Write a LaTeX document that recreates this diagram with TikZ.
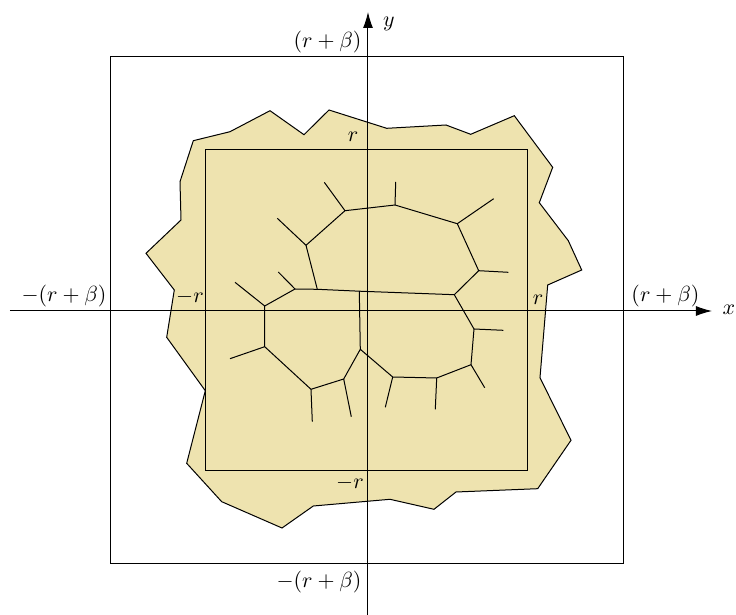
\documentclass[tikz,border=0pt]{standalone}
\usetikzlibrary{arrows.meta}
\definecolor{blobfill}{RGB}{238,227,175}
\begin{document}
\begin{tikzpicture}[x=0.5pt,y=-0.5pt,line width=0.5pt,
  lbl/.style={inner sep=0pt,font=\fontsize{10.5}{12}\selectfont},
  edge/.style={draw,line width=0.5pt},
  axis/.style={draw,-{Latex[length=8pt,width=5pt]}}]
\useasboundingbox (0,0) rectangle (736,615);
% blob
\filldraw[fill=blobfill,draw=black,line join=miter] (193.3,140.7) -- (230,131.7) -- (270,110.7) -- (304,134.7) -- (329,110) -- (386.7,128.3) -- (446,125) -- (470.7,134.3) -- (514.3,115.7) -- (552.7,167.3) -- (539.3,202.7) -- (568.3,240.7) -- (581.7,270) -- (547.7,285) -- (540,377.7) -- (571,440.3) -- (537.7,488.7) -- (456,492) -- (434,509.3) -- (390,499.3) -- (313.3,506) -- (282,528) -- (221.7,501.7) -- (186.7,463.3) -- (205.3,390.7) -- (166.7,337.3) -- (174.3,290) -- (146,253.3) -- (181,220) -- (180,181.7) -- cycle;
% squares
\draw (111,57) rectangle (624,564);
\draw (206,150) rectangle (528,471);
% axes
\coordinate (xl) at (10,311);
\coordinate (xr) at (712,311);
\coordinate (yb) at (368,615);
\coordinate (yt) at (368,12);
\draw[axis] (xl) -- (xr);
\draw[axis] (yb) -- (yt);
% graph nodes
\coordinate (A) at (345,210.7);
\coordinate (a) at (324.3,182.3);
\coordinate (B) at (395,205);
\coordinate (b) at (395.7,182);
\coordinate (C) at (306,245.3);
\coordinate (c) at (277.3,218.3);
\coordinate (D) at (317.3,289.3);
\coordinate (E) at (295,289);
\coordinate (e) at (278.3,272);
\coordinate (F) at (264.7,306);
\coordinate (f) at (235,282.3);
\coordinate (G) at (359.3,291.2);
\coordinate (H) at (454.3,294.7);
\coordinate (I) at (457.3,223.7);
\coordinate (i) at (493.7,198.7);
\coordinate (J) at (478.7,270.7);
\coordinate (j) at (508.3,272.3);
\coordinate (K) at (474,329);
\coordinate (k) at (503.3,330.3);
\coordinate (L) at (471,364.7);
\coordinate (l) at (484.7,387.7);
\coordinate (M) at (436.7,378);
\coordinate (m) at (435.3,409.3);
\coordinate (N) at (264.7,346.7);
\coordinate (n) at (230,358.7);
\coordinate (O) at (311,389.3);
\coordinate (o) at (312.3,421.7);
\coordinate (P) at (343.7,379);
\coordinate (p) at (351.3,416.7);
\coordinate (Q) at (360.3,349.3);
\coordinate (R) at (392.7,377);
\coordinate (rr) at (385.3,407.3);
% graph edges
\draw[edge] (C) -- (A) -- (B) -- (I) -- (J) -- (H) -- (K) -- (L) -- (M) -- (R) -- (Q) -- (P) -- (O) -- (N) -- (F) -- (E);
\draw[edge] (C) -- (D);
\draw[edge] (E) -- (D) -- (G) -- (H);
\draw[edge] (G) -- (Q);
\draw[edge] (A) -- (a);
\draw[edge] (B) -- (b);
\draw[edge] (C) -- (c);
\draw[edge] (E) -- (e);
\draw[edge] (F) -- (f);
\draw[edge] (I) -- (i);
\draw[edge] (J) -- (j);
\draw[edge] (K) -- (k);
\draw[edge] (L) -- (l);
\draw[edge] (M) -- (m);
\draw[edge] (N) -- (n);
\draw[edge] (O) -- (o);
\draw[edge] (P) -- (p);
\draw[edge] (R) -- (rr);
% labels
\node[lbl] (ly) at (389,24) {$y$};
\node[lbl] (lx) at (729,310) {$x$};
\node[lbl,anchor=east] (ltop) at (362,42) {$(r+\beta)$};
\node[lbl,anchor=east] (lbot) at (362,582) {$-(r+\beta)$};
\node[lbl,anchor=east] (lleft) at (107,296) {$-(r+\beta)$};
\node[lbl,anchor=west] (lright) at (631,296) {$(r+\beta)$};
\node[lbl] (rt) at (353,137) {$r$};
\node[lbl] (rl) at (190,297) {$-r$};
\node[lbl] (rr2) at (538,300) {$r$};
\node[lbl] (rb) at (350,483) {$-r$};
\end{tikzpicture}
\end{document}
